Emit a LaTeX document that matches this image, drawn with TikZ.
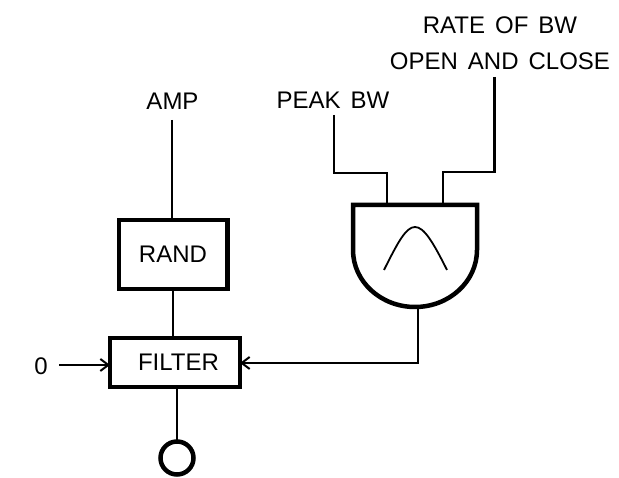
\documentclass[tikz,border=0pt]{standalone}
\usepackage{fontspec}
\setmainfont[WordSpace=1.5]{Liberation Sans}
\usetikzlibrary{arrows.meta,positioning}

\begin{document}
\begin{tikzpicture}[x=1pt,y=1pt,font=\fontsize{24}{28}\selectfont,
  box/.style={draw,line width=4.5pt,fill=white,inner sep=0pt,outer sep=0pt,align=center},
  txt/.style={inner sep=0pt,outer sep=0pt,align=center},
  wire/.style={line width=2.6pt},
  arr/.style={wire,-{Straight Barb[length=8pt,width=12pt,line width=2pt]}},
  gate/.style={line width=4.5pt,line join=miter}]
\useasboundingbox (0,0) rectangle (619,478);
\node[box,minimum width=108.5pt,minimum height=69pt] (rand) at (173,223.5) {RAND};
\node[box,minimum width=130pt,minimum height=49pt,below=49pt of rand.south,anchor=north,xshift=2pt] (filter) {\hspace*{7pt}FILTER};
\node[txt] (amp) at (172.5,377) {AMP};
\node[txt] (zero) at (41,112) {0};
\coordinate (zeroend) at (59,113);
\node[circle,draw,line width=4.5pt,inner sep=0pt,outer sep=0pt,minimum size=33pt] (out) at (177,20) {};
\node[minimum width=124pt,minimum height=102pt,inner sep=0pt,outer sep=0pt] (env) at (415,222) {};
\node[txt] (peak) at (333,378) {PEAK BW};
\node[txt] (rate) at (500,453) {RATE OF BW};
\node[txt,below=19pt of rate] (open) {OPEN AND CLOSE};
\coordinate (ampend) at (172,358);
\coordinate (peakend) at (334,363);
\coordinate (rateend) at (494.5,401);
% gate body and its bump
\draw[gate] (env.north west) -- (env.north east) -- ++(0,-45) arc[start angle=0,end angle=-180,x radius=62pt,y radius=57pt] -- cycle;
\draw[line width=1.8pt] (384,208) .. controls (398,236) and (406,251) .. (415,251) .. controls (424,251) and (433,236) .. (447,208);
% wires
\draw[wire] (ampend) -- (ampend |- rand.north);
\draw[wire] (rand.south) -- (rand.south |- filter.north);
\draw[wire] (out.north |- filter.south) -- (out.north);
\draw[arr] (zeroend) -- (filter.west |- zeroend);
\draw[wire] (peakend) -- (334,305) -- (387,305) -- (387,273);
\draw[wire] (rateend) -- (494.5,306) -- (443,306) -- (443,273);
\draw[arr] (418,171) -- (418,115) -- (filter.east |- 0,115);
\end{tikzpicture}
\end{document}
